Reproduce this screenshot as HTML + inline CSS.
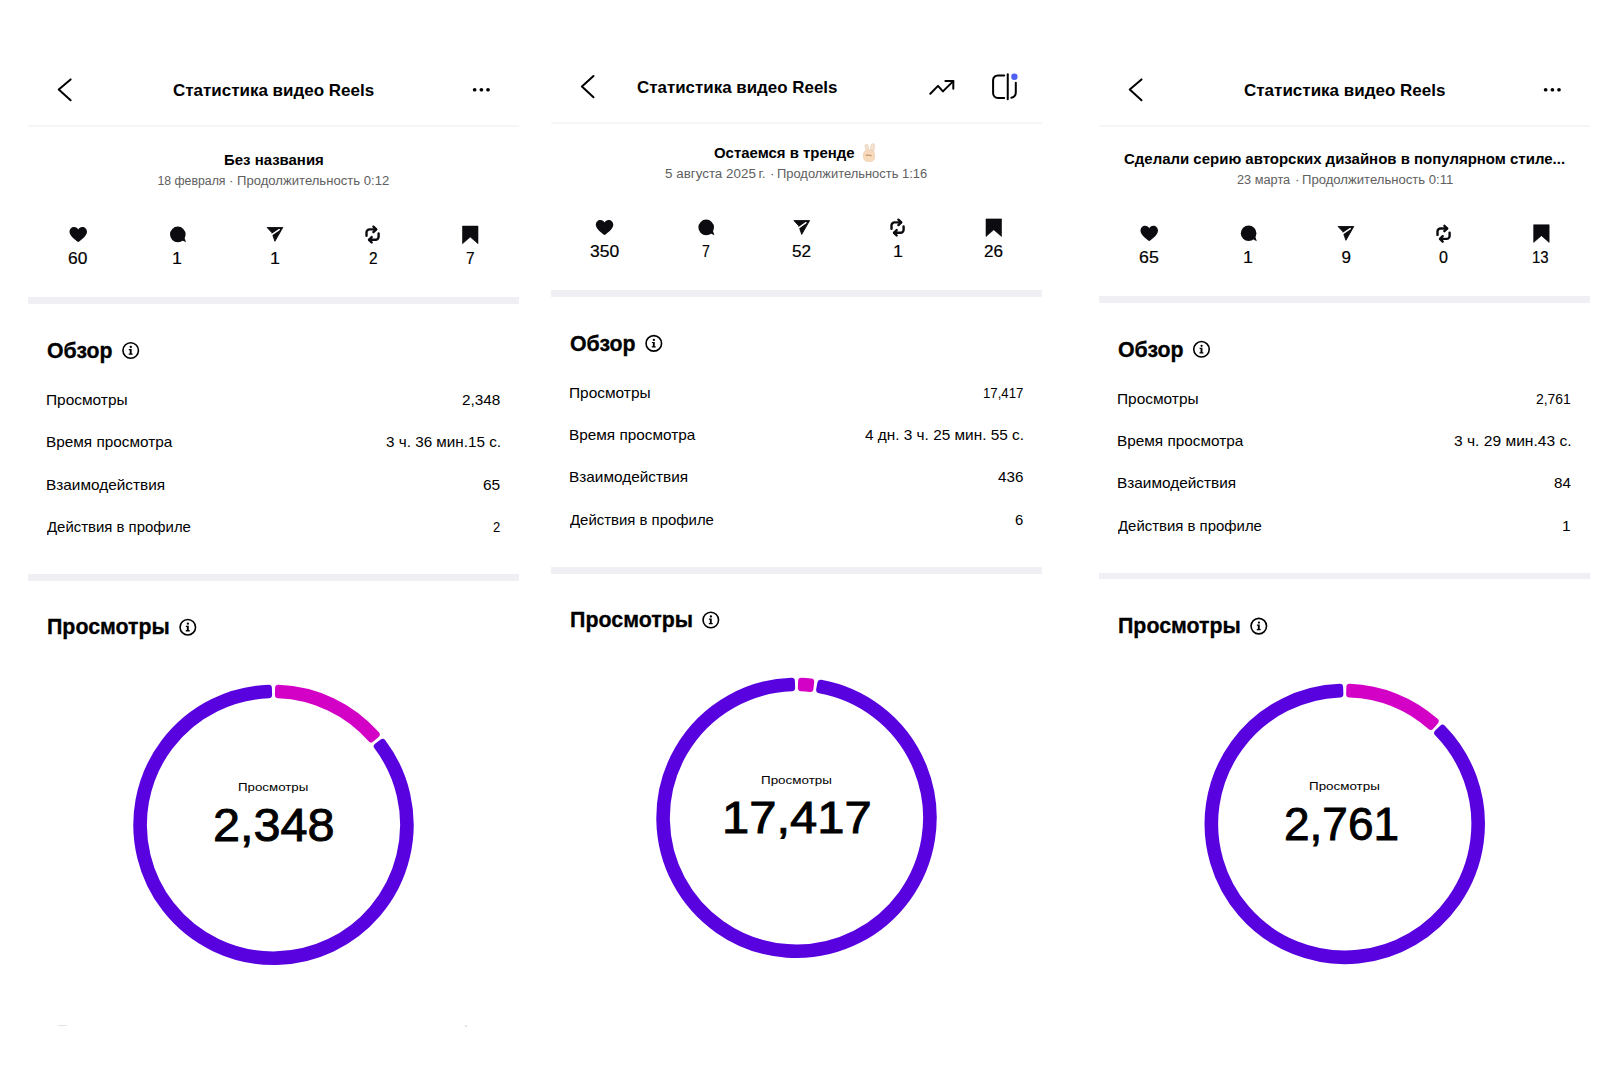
<!DOCTYPE html>
<html lang="ru"><head><meta charset="utf-8"><title>Статистика видео Reels</title>
<style>
html,body{margin:0;padding:0;background:#fff;}
body{width:1600px;height:1068px;position:relative;overflow:hidden;font-family:"Liberation Sans", Arial, sans-serif;color:#000;}
.t{position:absolute;white-space:nowrap;transform-origin:0 0;}
svg{position:absolute;left:0;top:0;}
</style></head><body>
<div class="t" id="t0" style="left:172.97px;top:82px;font-size:16.5px;line-height:16.5px;font-weight:700;transform:scaleX(1.0290);">Статистика видео Reels</div>
<div style="position:absolute;left:28px;top:125px;width:491px;height:2px;background:#f6f6f6;"></div>
<div class="t" id="t1" style="left:223.75px;top:153px;font-size:14.5px;line-height:14.5px;font-weight:700;transform:scaleX(1.0304);">Без названия</div>
<div class="t" id="t2" style="left:157.38px;top:175px;font-size:12.3px;line-height:12.3px;color:#606060;">18 февраля</div>
<div class="t" id="t3" style="left:229.00px;top:175px;font-size:12.3px;line-height:12.3px;color:#606060;transform:scaleX(1.1000);">·</div>
<div class="t" id="t4" style="left:237.06px;top:175px;font-size:12.3px;line-height:12.3px;color:#606060;transform:scaleX(1.0648);">Продолжительность 0:12</div>
<div class="t" id="t5" style="left:68.37px;top:250px;font-size:17.0px;line-height:17.0px;transform:scaleX(1.0211);-webkit-text-stroke:0.2px #000;">60</div>
<div class="t" id="t6" style="left:172.09px;top:250px;font-size:17.0px;line-height:17.0px;transform:scaleX(1.0500);-webkit-text-stroke:0.2px #000;">1</div>
<div class="t" id="t7" style="left:270.01px;top:250px;font-size:17.0px;line-height:17.0px;transform:scaleX(1.0500);-webkit-text-stroke:0.2px #000;">1</div>
<div class="t" id="t8" style="left:368.53px;top:250px;font-size:17.0px;line-height:17.0px;transform:scaleX(0.9031);-webkit-text-stroke:0.2px #000;">2</div>
<div class="t" id="t9" style="left:466.45px;top:250px;font-size:17.0px;line-height:17.0px;transform:scaleX(0.9074);-webkit-text-stroke:0.2px #000;">7</div>
<div style="position:absolute;left:28px;top:297px;width:491px;height:7px;background:#efeff4;"></div>
<div class="t" id="t10" style="left:46.93px;top:340px;font-size:21.6px;line-height:21.6px;font-weight:700;transform:scaleX(0.9853);-webkit-text-stroke:0.3px #000;">Обзор</div>
<div class="t" id="t11" style="left:45.66px;top:393px;font-size:14.5px;line-height:14.5px;transform:scaleX(1.0650);">Просмотры</div>
<div class="t" id="t12" style="left:461.92px;top:393px;font-size:14.5px;line-height:14.5px;transform:scaleX(1.0558);">2,348</div>
<div class="t" id="t13" style="left:46.08px;top:435px;font-size:14.5px;line-height:14.5px;transform:scaleX(1.0586);">Время просмотра</div>
<div class="t" id="t14" style="left:385.86px;top:435px;font-size:14.5px;line-height:14.5px;transform:scaleX(1.0522);">3 ч. 36 мин.15 с.</div>
<div class="t" id="t15" style="left:46.10px;top:478px;font-size:14.5px;line-height:14.5px;transform:scaleX(1.0596);">Взаимодействия</div>
<div class="t" id="t16" style="left:483.47px;top:478px;font-size:14.5px;line-height:14.5px;transform:scaleX(1.0690);">65</div>
<div class="t" id="t17" style="left:46.80px;top:520px;font-size:14.5px;line-height:14.5px;transform:scaleX(1.0290);">Действия в профиле</div>
<div class="t" id="t18" style="left:492.87px;top:520px;font-size:14.5px;line-height:14.5px;transform:scaleX(0.8996);">2</div>
<div style="position:absolute;left:28px;top:574px;width:491px;height:6.5px;background:#efeff4;"></div>
<div class="t" id="t19" style="left:46.60px;top:616px;font-size:21.6px;line-height:21.6px;font-weight:700;transform:scaleX(0.9889);-webkit-text-stroke:0.3px #000;">Просмотры</div>
<div class="t" id="t20" style="left:238.43px;top:782px;font-size:11.8px;line-height:11.8px;transform:scaleX(1.1275);">Просмотры</div>
<div class="t" id="t21" style="left:212.69px;top:802px;font-size:46.5px;line-height:46.5px;transform:scaleX(1.0446);-webkit-text-stroke:0.9px #000;">2,348</div>
<div style="position:absolute;left:58px;top:1025px;width:9px;height:1px;background:#e4e4e4;"></div>
<div style="position:absolute;left:465px;top:1025px;width:2px;height:2px;background:#e2e2e2;"></div>
<div class="t" id="t22" style="left:636.64px;top:79px;font-size:16.5px;line-height:16.5px;font-weight:700;transform:scaleX(1.0254);">Статистика видео Reels</div>
<div style="position:absolute;left:551px;top:121.6px;width:491px;height:2.0px;background:#f6f6f6;"></div>
<div class="t" id="t23" style="left:713.75px;top:146px;font-size:14.5px;line-height:14.5px;font-weight:700;transform:scaleX(1.0304);">Остаемся в тренде</div>
<div class="t" id="t24" style="left:665.30px;top:168px;font-size:12.3px;line-height:12.3px;color:#606060;transform:scaleX(1.0896);">5 августа 2025 г.</div>
<div class="t" id="t25" style="left:769.90px;top:168px;font-size:12.3px;line-height:12.3px;color:#606060;transform:scaleX(1.1000);">·</div>
<div class="t" id="t26" style="left:777.14px;top:168px;font-size:12.3px;line-height:12.3px;color:#606060;transform:scaleX(1.0504);">Продолжительность 1:16</div>
<div class="t" id="t27" style="left:590.26px;top:243px;font-size:17.0px;line-height:17.0px;transform:scaleX(1.0293);-webkit-text-stroke:0.2px #000;">350</div>
<div class="t" id="t28" style="left:702.00px;top:243px;font-size:17.0px;line-height:17.0px;transform:scaleX(0.8317);-webkit-text-stroke:0.2px #000;">7</div>
<div class="t" id="t29" style="left:792.10px;top:243px;font-size:17.0px;line-height:17.0px;transform:scaleX(1.0075);-webkit-text-stroke:0.2px #000;">52</div>
<div class="t" id="t30" style="left:893.21px;top:243px;font-size:17.0px;line-height:17.0px;transform:scaleX(1.0500);-webkit-text-stroke:0.2px #000;">1</div>
<div class="t" id="t31" style="left:984.32px;top:243px;font-size:17.0px;line-height:17.0px;transform:scaleX(1.0035);-webkit-text-stroke:0.2px #000;">26</div>
<div style="position:absolute;left:551px;top:290px;width:491px;height:7px;background:#efeff4;"></div>
<div class="t" id="t32" style="left:569.70px;top:333px;font-size:21.6px;line-height:21.6px;font-weight:700;transform:scaleX(0.9880);-webkit-text-stroke:0.3px #000;">Обзор</div>
<div class="t" id="t33" style="left:568.90px;top:386px;font-size:14.5px;line-height:14.5px;transform:scaleX(1.0650);">Просмотры</div>
<div class="t" id="t34" style="left:982.95px;top:386px;font-size:14.5px;line-height:14.5px;transform:scaleX(0.9089);">17,417</div>
<div class="t" id="t35" style="left:569.02px;top:428px;font-size:14.5px;line-height:14.5px;transform:scaleX(1.0586);">Время просмотра</div>
<div class="t" id="t36" style="left:864.64px;top:428px;font-size:14.5px;line-height:14.5px;transform:scaleX(1.0595);">4 дн. 3 ч. 25 мин. 55 с.</div>
<div class="t" id="t37" style="left:569.01px;top:470px;font-size:14.5px;line-height:14.5px;transform:scaleX(1.0596);">Взаимодействия</div>
<div class="t" id="t38" style="left:997.60px;top:470px;font-size:14.5px;line-height:14.5px;transform:scaleX(1.0474);">436</div>
<div class="t" id="t39" style="left:569.80px;top:513px;font-size:14.5px;line-height:14.5px;transform:scaleX(1.0290);">Действия в профиле</div>
<div class="t" id="t40" style="left:1015.29px;top:513px;font-size:14.5px;line-height:14.5px;transform:scaleX(1.0265);">6</div>
<div style="position:absolute;left:551px;top:567px;width:491px;height:6.5px;background:#efeff4;"></div>
<div class="t" id="t41" style="left:569.57px;top:609px;font-size:21.6px;line-height:21.6px;font-weight:700;transform:scaleX(0.9907);-webkit-text-stroke:0.3px #000;">Просмотры</div>
<div class="t" id="t42" style="left:761.10px;top:775px;font-size:11.8px;line-height:11.8px;transform:scaleX(1.1365);">Просмотры</div>
<div class="t" id="t43" style="left:721.79px;top:796px;font-size:44.0px;line-height:44.0px;transform:scaleX(1.1124);-webkit-text-stroke:0.9px #000;">17,417</div>
<div class="t" id="t44" style="left:1244.22px;top:82px;font-size:16.5px;line-height:16.5px;font-weight:700;transform:scaleX(1.0305);">Статистика видео Reels</div>
<div style="position:absolute;left:1099px;top:124.6px;width:491px;height:2.0px;background:#f6f6f6;"></div>
<div class="t" id="t45" style="left:1124.10px;top:152px;font-size:14.5px;line-height:14.5px;font-weight:700;transform:scaleX(1.0328);">Сделали серию авторских дизайнов в популярном стиле...</div>
<div class="t" id="t46" style="left:1236.90px;top:174px;font-size:12.3px;line-height:12.3px;color:#606060;transform:scaleX(1.0369);">23 марта</div>
<div class="t" id="t47" style="left:1294.70px;top:174px;font-size:12.3px;line-height:12.3px;color:#606060;transform:scaleX(1.1000);">·</div>
<div class="t" id="t48" style="left:1302.03px;top:174px;font-size:12.3px;line-height:12.3px;color:#606060;transform:scaleX(1.0651);">Продолжительность 0:11</div>
<div class="t" id="t49" style="left:1139.19px;top:249px;font-size:17.0px;line-height:17.0px;transform:scaleX(1.0459);-webkit-text-stroke:0.2px #000;">65</div>
<div class="t" id="t50" style="left:1243.41px;top:249px;font-size:17.0px;line-height:17.0px;transform:scaleX(1.0500);-webkit-text-stroke:0.2px #000;">1</div>
<div class="t" id="t51" style="left:1341.47px;top:249px;font-size:17.0px;line-height:17.0px;-webkit-text-stroke:0.2px #000;">9</div>
<div class="t" id="t52" style="left:1439.27px;top:249px;font-size:17.0px;line-height:17.0px;transform:scaleX(0.9432);-webkit-text-stroke:0.2px #000;">0</div>
<div class="t" id="t53" style="left:1531.94px;top:249px;font-size:17.0px;line-height:17.0px;transform:scaleX(0.8808);-webkit-text-stroke:0.2px #000;">13</div>
<div style="position:absolute;left:1099px;top:296.3px;width:491px;height:6.699999999999989px;background:#efeff4;"></div>
<div class="t" id="t54" style="left:1117.80px;top:339px;font-size:21.6px;line-height:21.6px;font-weight:700;transform:scaleX(0.9880);-webkit-text-stroke:0.3px #000;">Обзор</div>
<div class="t" id="t55" style="left:1116.93px;top:392px;font-size:14.5px;line-height:14.5px;transform:scaleX(1.0650);">Просмотры</div>
<div class="t" id="t56" style="left:1536.29px;top:392px;font-size:14.5px;line-height:14.5px;transform:scaleX(0.9605);">2,761</div>
<div class="t" id="t57" style="left:1117.07px;top:434px;font-size:14.5px;line-height:14.5px;transform:scaleX(1.0586);">Время просмотра</div>
<div class="t" id="t58" style="left:1454.10px;top:434px;font-size:14.5px;line-height:14.5px;transform:scaleX(1.0750);">3 ч. 29 мин.43 с.</div>
<div class="t" id="t59" style="left:1116.94px;top:476px;font-size:14.5px;line-height:14.5px;transform:scaleX(1.0596);">Взаимодействия</div>
<div class="t" id="t60" style="left:1554.08px;top:476px;font-size:14.5px;line-height:14.5px;transform:scaleX(1.0469);">84</div>
<div class="t" id="t61" style="left:1117.80px;top:519px;font-size:14.5px;line-height:14.5px;transform:scaleX(1.0290);">Действия в профиле</div>
<div class="t" id="t62" style="left:1562.24px;top:519px;font-size:14.5px;line-height:14.5px;transform:scaleX(1.0700);">1</div>
<div style="position:absolute;left:1099px;top:572.5px;width:491px;height:6.5px;background:#efeff4;"></div>
<div class="t" id="t63" style="left:1117.62px;top:615px;font-size:21.6px;line-height:21.6px;font-weight:700;transform:scaleX(0.9889);-webkit-text-stroke:0.3px #000;">Просмотры</div>
<div class="t" id="t64" style="left:1308.83px;top:781px;font-size:11.8px;line-height:11.8px;transform:scaleX(1.1352);">Просмотры</div>
<div class="t" id="t65" style="left:1284.11px;top:801px;font-size:46.5px;line-height:46.5px;transform:scaleX(0.9891);-webkit-text-stroke:0.9px #000;">2,761</div>
<div class="t" style="left:861px;top:143px;font-size:14px;line-height:17px;opacity:0;">✌🏻</div>
<svg width="1600" height="1068" viewBox="0 0 1600 1068">
<polyline points="70.6,79.4 58.75,89.6 70.6,100.25" fill="none" stroke="#000" stroke-width="2" stroke-linecap="round" stroke-linejoin="round"/>
<circle cx="474.65" cy="89.75" r="1.85" fill="#000"/>
<circle cx="481.4" cy="89.75" r="1.85" fill="#000"/>
<circle cx="488.0" cy="89.75" r="1.85" fill="#000"/>
<path transform="translate(69.50,226.90) scale(1.000,1.000)" d="M8.75 15.2 C8.2 14.8 0 9.6 0 4.9 C0 2.1 2.1 0 4.7 0 C6.6 0 8 1.1 8.75 2.5 C9.5 1.1 10.9 0 12.8 0 C15.4 0 17.5 2.1 17.5 4.9 C17.5 9.6 9.3 14.8 8.75 15.2 Z" fill="#0c0c10"/>
<g transform="translate(177.80,234.40)"><circle r="7.8" fill="#0c0c10"/><path d="M3.5 5.5 L8.2 7.9 L6.6 3 Z" fill="#0c0c10"/></g>
<g transform="translate(266.80,227.00)"><path d="M0.3 0.5 L16.0 0.5 L8.1 14.3 L6.0 8.1 L5.0 5.6 Z" fill="#0c0c10" stroke="#0c0c10" stroke-width="0.9" stroke-linejoin="round"/><path d="M5.0 7.7 L12.4 2.6" stroke="#fff" stroke-width="1.5" stroke-linecap="round"/></g>
<g transform="translate(365.00,226.00)" fill="none" stroke="#0c0c10" stroke-width="2.4" stroke-linecap="round" stroke-linejoin="round"><path d="M1.5 9.8 V6.4 A3 3 0 0 1 4.5 3.4 H11.0"/><path d="M8.4 0.7 L11.2 3.4 L8.4 6.1"/><path d="M13.6 7.5 V10.8 A3 3 0 0 1 10.6 13.8 H4.2"/><path d="M6.7 11.1 L4.0 13.8 L6.7 16.5"/></g>
<path d="M462.50 226.10 H478.00 V243.70 L470.25 237.00 L462.50 243.70 Z" fill="#0c0c10" stroke="#0c0c10" stroke-width="0.6" stroke-linejoin="round"/>
<g transform="translate(130.70,350.50)"><circle r="7.75" fill="none" stroke="#000" stroke-width="1.6"/><circle cx="0.1" cy="-3.5" r="1.15" fill="#000"/><path d="M-1.9 -1.5 H0.95 V2.9 H1.9 V4.2 H-2.0 V2.9 H-0.95 V-0.3 H-1.9 Z" fill="#000"/></g>
<g transform="translate(187.80,627.20)"><circle r="7.75" fill="none" stroke="#000" stroke-width="1.6"/><circle cx="0.1" cy="-3.5" r="1.15" fill="#000"/><path d="M-1.9 -1.5 H0.95 V2.9 H1.9 V4.2 H-2.0 V2.9 H-0.95 V-0.3 H-1.9 Z" fill="#000"/></g>
<path d="M278.42 687.99 A136.90 136.90 0 0 1 376.41 734.51 L371.15 739.13 A129.90 129.90 0 0 0 278.17 694.98 Z" fill="#d300c6" stroke="#d300c6" stroke-width="6.60" stroke-linejoin="round"/>
<path d="M382.63 742.15 A136.90 136.90 0 1 1 268.58 687.99 L268.83 694.98 A129.90 129.90 0 1 0 377.05 746.37 Z" fill="#5902e0" stroke="#5902e0" stroke-width="6.60" stroke-linejoin="round"/>
<polyline points="593.5,76.0 581.9,86.6 593.5,97.25" fill="none" stroke="#000" stroke-width="2" stroke-linecap="round" stroke-linejoin="round"/>
<polyline points="930.3,93.7 938,85.9 942.9,91.4 953.3,81.1" fill="none" stroke="#000" stroke-width="2" stroke-linecap="round" stroke-linejoin="round"/>
<polyline points="945.4,81.1 953.3,81.1 953.3,88.8" fill="none" stroke="#000" stroke-width="2" stroke-linecap="round" stroke-linejoin="round"/>
<path d="M1004.2 75.4 H997.8 A4.7 4.7 0 0 0 993.1 80.1 V93.3 A4.7 4.7 0 0 0 997.8 98 H1004.2" fill="none" stroke="#000" stroke-width="2" stroke-linecap="round"/>
<path d="M1007.75 74.2 V99.2" fill="none" stroke="#000" stroke-width="2" stroke-linecap="round"/>
<path d="M1015.8 82.8 V92.3 A5.6 5.6 0 0 1 1011.3 97.8" fill="none" stroke="#000" stroke-width="2" stroke-linecap="round"/>
<circle cx="1014.4" cy="76.7" r="3.2" fill="#4f5ff2"/>
<path transform="translate(595.80,219.90) scale(1.000,1.000)" d="M8.75 15.2 C8.2 14.8 0 9.6 0 4.9 C0 2.1 2.1 0 4.7 0 C6.6 0 8 1.1 8.75 2.5 C9.5 1.1 10.9 0 12.8 0 C15.4 0 17.5 2.1 17.5 4.9 C17.5 9.6 9.3 14.8 8.75 15.2 Z" fill="#0c0c10"/>
<g transform="translate(706.20,227.40)"><circle r="7.8" fill="#0c0c10"/><path d="M3.5 5.5 L8.2 7.9 L6.6 3 Z" fill="#0c0c10"/></g>
<g transform="translate(793.60,220.10)"><path d="M0.3 0.5 L16.0 0.5 L8.1 14.3 L6.0 8.1 L5.0 5.6 Z" fill="#0c0c10" stroke="#0c0c10" stroke-width="0.9" stroke-linejoin="round"/><path d="M5.0 7.7 L12.4 2.6" stroke="#fff" stroke-width="1.5" stroke-linecap="round"/></g>
<g transform="translate(890.00,219.00)" fill="none" stroke="#0c0c10" stroke-width="2.4" stroke-linecap="round" stroke-linejoin="round"><path d="M1.5 9.8 V6.4 A3 3 0 0 1 4.5 3.4 H11.0"/><path d="M8.4 0.7 L11.2 3.4 L8.4 6.1"/><path d="M13.6 7.5 V10.8 A3 3 0 0 1 10.6 13.8 H4.2"/><path d="M6.7 11.1 L4.0 13.8 L6.7 16.5"/></g>
<path d="M986.00 218.90 H1001.50 V236.50 L993.75 229.80 L986.00 236.50 Z" fill="#0c0c10" stroke="#0c0c10" stroke-width="0.6" stroke-linejoin="round"/>
<g transform="translate(653.80,343.40)"><circle r="7.75" fill="none" stroke="#000" stroke-width="1.6"/><circle cx="0.1" cy="-3.5" r="1.15" fill="#000"/><path d="M-1.9 -1.5 H0.95 V2.9 H1.9 V4.2 H-2.0 V2.9 H-0.95 V-0.3 H-1.9 Z" fill="#000"/></g>
<g transform="translate(710.80,620.00)"><circle r="7.75" fill="none" stroke="#000" stroke-width="1.6"/><circle cx="0.1" cy="-3.5" r="1.15" fill="#000"/><path d="M-1.9 -1.5 H0.95 V2.9 H1.9 V4.2 H-2.0 V2.9 H-0.95 V-0.3 H-1.9 Z" fill="#000"/></g>
<path d="M801.42 680.99 A136.90 136.90 0 0 1 810.90 681.66 L810.16 688.62 A129.90 129.90 0 0 0 801.17 687.98 Z" fill="#d300c6" stroke="#d300c6" stroke-width="6.60" stroke-linejoin="round"/>
<path d="M820.65 683.05 A136.90 136.90 0 1 1 791.58 680.99 L791.83 687.98 A129.90 129.90 0 1 0 819.42 689.94 Z" fill="#5902e0" stroke="#5902e0" stroke-width="6.60" stroke-linejoin="round"/>
<polyline points="1141.5,79.4 1129.75,89.6 1141.5,100.25" fill="none" stroke="#000" stroke-width="2" stroke-linecap="round" stroke-linejoin="round"/>
<circle cx="1545.65" cy="89.75" r="1.85" fill="#000"/>
<circle cx="1552.4" cy="89.75" r="1.85" fill="#000"/>
<circle cx="1559.0" cy="89.75" r="1.85" fill="#000"/>
<path transform="translate(1140.50,225.80) scale(1.000,1.000)" d="M8.75 15.2 C8.2 14.8 0 9.6 0 4.9 C0 2.1 2.1 0 4.7 0 C6.6 0 8 1.1 8.75 2.5 C9.5 1.1 10.9 0 12.8 0 C15.4 0 17.5 2.1 17.5 4.9 C17.5 9.6 9.3 14.8 8.75 15.2 Z" fill="#0c0c10"/>
<g transform="translate(1248.60,233.30)"><circle r="7.8" fill="#0c0c10"/><path d="M3.5 5.5 L8.2 7.9 L6.6 3 Z" fill="#0c0c10"/></g>
<g transform="translate(1337.80,226.00)"><path d="M0.3 0.5 L16.0 0.5 L8.1 14.3 L6.0 8.1 L5.0 5.6 Z" fill="#0c0c10" stroke="#0c0c10" stroke-width="0.9" stroke-linejoin="round"/><path d="M5.0 7.7 L12.4 2.6" stroke="#fff" stroke-width="1.5" stroke-linecap="round"/></g>
<g transform="translate(1436.00,225.10)" fill="none" stroke="#0c0c10" stroke-width="2.4" stroke-linecap="round" stroke-linejoin="round"><path d="M1.5 9.8 V6.4 A3 3 0 0 1 4.5 3.4 H11.0"/><path d="M8.4 0.7 L11.2 3.4 L8.4 6.1"/><path d="M13.6 7.5 V10.8 A3 3 0 0 1 10.6 13.8 H4.2"/><path d="M6.7 11.1 L4.0 13.8 L6.7 16.5"/></g>
<path d="M1533.65 224.80 H1549.15 V242.40 L1541.40 235.70 L1533.65 242.40 Z" fill="#0c0c10" stroke="#0c0c10" stroke-width="0.6" stroke-linejoin="round"/>
<g transform="translate(1201.50,349.30)"><circle r="7.75" fill="none" stroke="#000" stroke-width="1.6"/><circle cx="0.1" cy="-3.5" r="1.15" fill="#000"/><path d="M-1.9 -1.5 H0.95 V2.9 H1.9 V4.2 H-2.0 V2.9 H-0.95 V-0.3 H-1.9 Z" fill="#000"/></g>
<g transform="translate(1258.80,626.10)"><circle r="7.75" fill="none" stroke="#000" stroke-width="1.6"/><circle cx="0.1" cy="-3.5" r="1.15" fill="#000"/><path d="M-1.9 -1.5 H0.95 V2.9 H1.9 V4.2 H-2.0 V2.9 H-0.95 V-0.3 H-1.9 Z" fill="#000"/></g>
<path d="M1349.67 687.09 A136.90 136.90 0 0 1 1435.35 721.27 L1430.72 726.52 A129.90 129.90 0 0 0 1349.42 694.08 Z" fill="#d300c6" stroke="#d300c6" stroke-width="6.60" stroke-linejoin="round"/>
<path d="M1442.50 728.05 A136.90 136.90 0 1 1 1339.83 687.09 L1340.08 694.08 A129.90 129.90 0 1 0 1437.50 732.95 Z" fill="#5902e0" stroke="#5902e0" stroke-width="6.60" stroke-linejoin="round"/>
<g stroke="#e6c3a2" stroke-width="0.5"><rect x="866.4" y="144.2" width="3.3" height="8.5" rx="1.6" fill="#f2e2d0" transform="rotate(-14 868 152)"/><rect x="870.4" y="143.6" width="3.5" height="8.8" rx="1.7" fill="#f2e2d0" transform="rotate(6 872 152)"/><rect x="863.4" y="150.2" width="11.2" height="11.2" rx="4.2" fill="#f7d9bb"/></g><path d="M866.4 155.4 Q868.8 154.5 871.2 155.7" fill="none" stroke="#c08a60" stroke-width="1.2" stroke-linecap="round"/>
</svg>
</body></html>
